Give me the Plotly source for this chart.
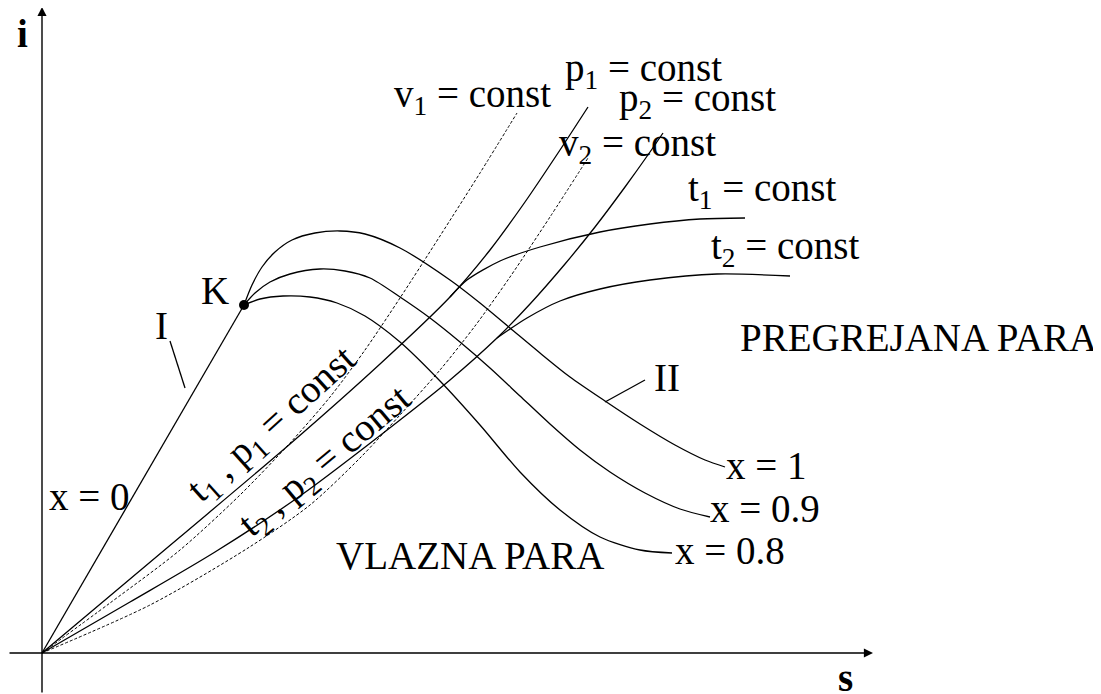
"""Mollier i-s diagram sketch for water vapour (wet and superheated region)."""

import plotly.graph_objects as go

# diagram units: s to the right, i upwards, origin where the axes cross
X0_S = [0, 202]
X0_I = [0, 348]

X1_S = [202, 210, 220, 233, 250, 273, 298, 323, 358, 408, 438, 468, 498, 528, 563, 598, 633, 663, 683]
X1_I = [348, 368, 386, 401, 413, 420, 422, 419, 405, 373, 350, 325, 300, 276, 252, 229, 208, 193, 186]

X09_S = [202, 213, 228, 248, 278, 303, 328, 358, 388, 418, 448, 478, 508, 538, 568, 603, 638, 668]
X09_I = [348, 360, 371, 379, 384, 382, 375, 356, 335, 311, 285, 257, 229, 203, 181, 160, 144, 136]

X08_S = [202, 218, 241, 268, 295, 323, 358, 398, 438, 478, 518, 558, 598, 630]
X08_I = [348, 354, 357, 356, 350, 337, 311, 272, 228, 181, 143, 116, 103, 100]

P1_S = [0, 138, 248, 338, 408, 448, 483, 518, 546]
P1_I = [0, 116, 209, 289, 356, 403, 451, 503, 546]
T1_S = [408, 425, 458, 498, 558, 608, 658, 703]
T1_I = [356, 373, 392, 406, 421, 429, 434, 435]

P2_S = [0, 88, 173, 258, 358, 408, 455, 488, 523, 553, 583, 608, 621]
P2_I = [0, 51, 101, 157, 233, 273, 315, 349, 389, 426, 466, 501, 520]
T2_S = [455, 485, 518, 558, 608, 675, 748]
T2_I = [315, 335, 352, 364, 373, 379, 377]

V1_S = [0, 68, 138, 198, 248, 288, 323, 358, 398, 438, 475]
V1_I = [0, 50, 103, 158, 210, 256, 303, 355, 417, 480, 540]

V2_S = [0, 108, 206, 268, 318, 358, 398, 433, 468, 508, 546]
V2_I = [0, 48, 105, 148, 195, 238, 283, 327, 376, 436, 495]

K_POINT = (202, 348)
LEADER_I = ([128, 143], [312, 265])
LEADER_II = ([563, 603], [251, 273])

S_AXIS = (-34, 831)
I_AXIS = (-41, 646)

LABELS = [
    ("K", 173, 363, 0),
    ("I", 119, 328, 0),
    ("x = 0", 47, 157, 0),
    ("t<sub>1</sub> , p<sub>1</sub> = const", 230, 228, -42),
    ("t<sub>2</sub> , p<sub>2</sub> = const", 283, 191, -40),
    ("v<sub>1</sub> = const", 430, 557, 0),
    ("p<sub>1</sub> = const", 601, 583, 0),
    ("p<sub>2</sub> = const", 655, 553, 0),
    ("v<sub>2</sub> = const", 595, 508, 0),
    ("t<sub>1</sub> = const", 720, 463, 0),
    ("t<sub>2</sub> = const", 743, 405, 0),
    ("PREGREJANA PARA", 876, 316, 0),
    ("II", 625, 276, 0),
    ("x = 1", 724, 188, 0),
    ("x = 0.9", 723, 145, 0),
    ("x = 0.8", 688, 103, 0),
    ("VLAZNA PARA", 428, 98, 0),
]

FONT = "Liberation Serif, Times New Roman, serif"
OFFSET = 8  # the page body margin moves the plot 8 px right and down

fig = go.Figure()

solid = {"color": "black", "width": 1.3}
dashed = {"color": "black", "width": 1, "dash": "3px,2px"}
curves = [
    (X0_S, X0_I, solid), (X1_S, X1_I, solid), (X09_S, X09_I, solid), (X08_S, X08_I, solid),
    (P1_S, P1_I, solid), (T1_S, T1_I, solid), (P2_S, P2_I, solid), (T2_S, T2_I, solid),
    (V1_S, V1_I, dashed), (V2_S, V2_I, dashed),
    (LEADER_I[0], LEADER_I[1], solid), (LEADER_II[0], LEADER_II[1], solid),
]
for s, i, line in curves:
    fig.add_trace(go.Scatter(x=s, y=i, mode="lines", line=dict(line, shape="spline", smoothing=0.8), hoverinfo="skip"))

fig.add_trace(go.Scatter(x=[K_POINT[0]], y=[K_POINT[1]], mode="markers", marker={"color": "black", "size": 10}, hoverinfo="skip"))

# axes with arrow heads
fig.add_annotation(x=S_AXIS[1], y=0, ax=S_AXIS[0], ay=0, xref="x", yref="y", axref="x", ayref="y",
                   text="", showarrow=True, arrowhead=2, arrowsize=1.3, arrowwidth=1.4, arrowcolor="black")
fig.add_annotation(x=0, y=I_AXIS[1], ax=0, ay=I_AXIS[0], xref="x", yref="y", axref="x", ayref="y",
                   text="", showarrow=True, arrowhead=2, arrowsize=1.3, arrowwidth=1.4, arrowcolor="black")
fig.add_annotation(x=-20, y=620, text="<b>i</b>", showarrow=False, font={"family": FONT, "size": 39, "color": "black"})
fig.add_annotation(x=803, y=-24, text="<b>s</b>", showarrow=False, font={"family": FONT, "size": 39, "color": "black"})

for text, s, i, angle in LABELS:
    fig.add_annotation(x=s, y=i, text=text, showarrow=False, textangle=angle,
                       font={"family": FONT, "size": 39, "color": "black"})

fig.update_layout(
    width=1101, height=694, margin={"l": 0, "r": 0, "t": 0, "b": 0},
    paper_bgcolor="white", plot_bgcolor="white", showlegend=False,
    xaxis={"range": [-42 + OFFSET, 1059 + OFFSET], "visible": False, "fixedrange": True},
    yaxis={"range": [-41 - OFFSET, 653 - OFFSET], "visible": False, "fixedrange": True},
)
fig.write_html("out.html")
